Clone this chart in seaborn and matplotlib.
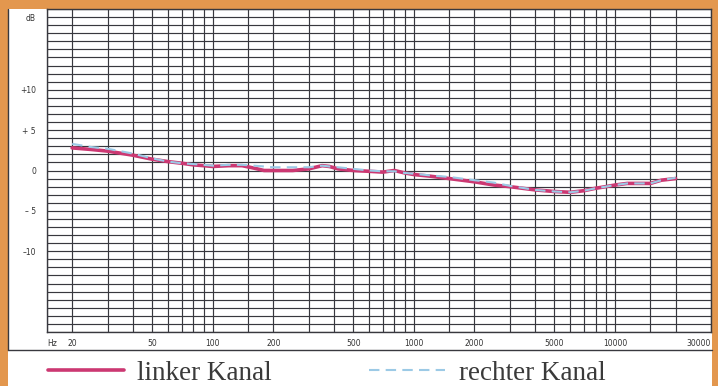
import matplotlib
matplotlib.use('Agg')
import matplotlib.pyplot as plt
import numpy as np
import pandas as pd
import seaborn as sns
from matplotlib.patches import Rectangle
from matplotlib.lines import Line2D

# frequency response
freq = [20, 25, 30, 40, 50, 60, 70, 80, 90, 100, 120, 140, 160, 180, 200, 250, 300,
        350, 380, 420, 500, 600, 700, 800, 900, 1000, 1200, 1500, 2000, 2500, 3000,
        4000, 5000, 6000, 7000, 8000, 9000, 10000, 11500, 13000, 15000, 17000, 20000]
left_db = [2.8, 2.6, 2.4, 1.9, 1.4, 1.1, 0.9, 0.7, 0.6, 0.5, 0.6, 0.6, 0.3, 0.0, 0.0,
           0.0, 0.2, 0.6, 0.5, 0.2, 0.0, -0.1, -0.2, 0.0, -0.3, -0.5, -0.7, -1.0, -1.4,
           -1.8, -2.0, -2.4, -2.6, -2.7, -2.5, -2.2, -2.0, -1.8, -1.6, -1.6, -1.6, -1.2, -1.0]
right_db = [3.3, 2.9, 2.7, 2.1, 1.5, 1.1, 0.9, 0.8, 0.7, 0.6, 0.7, 0.7, 0.6, 0.5, 0.4,
            0.4, 0.4, 0.6, 0.5, 0.4, 0.2, 0.0, -0.1, -0.1, -0.3, -0.4, -0.6, -0.8, -1.2,
            -1.5, -1.9, -2.4, -2.6, -2.7, -2.5, -2.2, -2.0, -1.8, -1.6, -1.6, -1.6, -1.2, -0.9]
channels = ['linker Kanal', 'rechter Kanal']

x_ticks = [15, 20, 50, 100, 200, 500, 1000, 2000, 5000, 10000, 30000]
x_labels = ['Hz', '20', '50', '100', '200', '500', '1000', '2000', '5000', '10000', '30000']
x_grid = [15, 20, 30, 40, 50, 60, 70, 80, 90,
          100, 150, 200, 300, 400, 500, 600, 700, 800, 900,
          1000, 1500, 2000, 3000, 4000, 5000, 6000, 7000, 8000, 9000,
          10000, 15000, 20000, 30000]
y_ticks = [19, 10, 5, 0, -5, -10]
y_labels = ['dB', '+10', '+ 5', '0', '\u2013 5', '\u201310']

ORANGE = '#e3974e'
GRID = '#38383e'
PINK = '#cc3872'
BLUE = '#9ccae6'

sns.set_style('white')
plt.rcParams['font.family'] = ['DejaVu Sans']

W, H = 718, 386
fig = plt.figure(figsize=(W / 100, H / 100), dpi=100, facecolor=ORANGE)
fig.add_artist(Rectangle((8 / W, 0), 704 / W, 377 / H, transform=fig.transFigure,
                         facecolor='white', edgecolor='none', zorder=0))
fig.add_artist(Line2D([8 / W, 8 / W], [36 / H, 377 / H], color=GRID, lw=1.0))
fig.add_artist(Line2D([8 / W, 712 / W], [36 / H, 36 / H], color=GRID, lw=1.0))

ax = fig.add_axes([47 / W, 54 / H, 664 / W, 323 / H])
ax.set_facecolor('white')

df = pd.DataFrame({'f': freq * 2,
                   'db': left_db + right_db,
                   'kanal': [channels[0]] * len(freq) + [channels[1]] * len(freq)})

sns.lineplot(data=df[df.kanal == channels[0]], x='f', y='db', ax=ax, color=PINK,
             lw=2.6, label=channels[0], zorder=3)
sns.lineplot(data=df[df.kanal == channels[1]], x='f', y='db', ax=ax, color=BLUE,
             lw=1.5, ls=(0, (5, 3)), label=channels[1], zorder=4)

ax.set_xscale('log')
ax.set_xlim(15, 30000)
ax.set_ylim(-20, 20)

ax.set_xticks(x_grid, minor=True)
ax.set_yticks(np.arange(-20, 21), minor=True)
ax.set_xticks(x_ticks)
ax.set_xticklabels(x_labels)
ax.set_yticks(y_ticks)
ax.set_yticklabels(y_labels)
ax.xaxis.set_minor_formatter(matplotlib.ticker.NullFormatter())
ax.grid(which='both', color=GRID, lw=0.85)
ax.tick_params(which='both', length=0, labelsize=5.5, colors='#333333')
ax.tick_params(axis='x', pad=5)
ax.tick_params(axis='y', pad=8)
xl = ax.get_xticklabels()
xl[0].set_ha('left')
xl[-1].set_ha('right')
ax.set_xlabel('')
ax.set_ylabel('')
for s in ax.spines.values():
    s.set_visible(True)
    s.set_color(GRID)
    s.set_linewidth(1.0)

handles, labels = ax.get_legend_handles_labels()
ax.get_legend().remove()
fig.legend(handles, labels, loc='center left', bbox_to_anchor=(37 / W, 13 / H),
           ncol=2, frameon=False, handlelength=2.8, handletextpad=0.5,
           columnspacing=3.6, borderaxespad=0,
           prop={'family': 'Liberation Serif', 'size': 19.5}, labelcolor='#3a3a3a')

fig.savefig('out.png', dpi=100, facecolor=ORANGE)
